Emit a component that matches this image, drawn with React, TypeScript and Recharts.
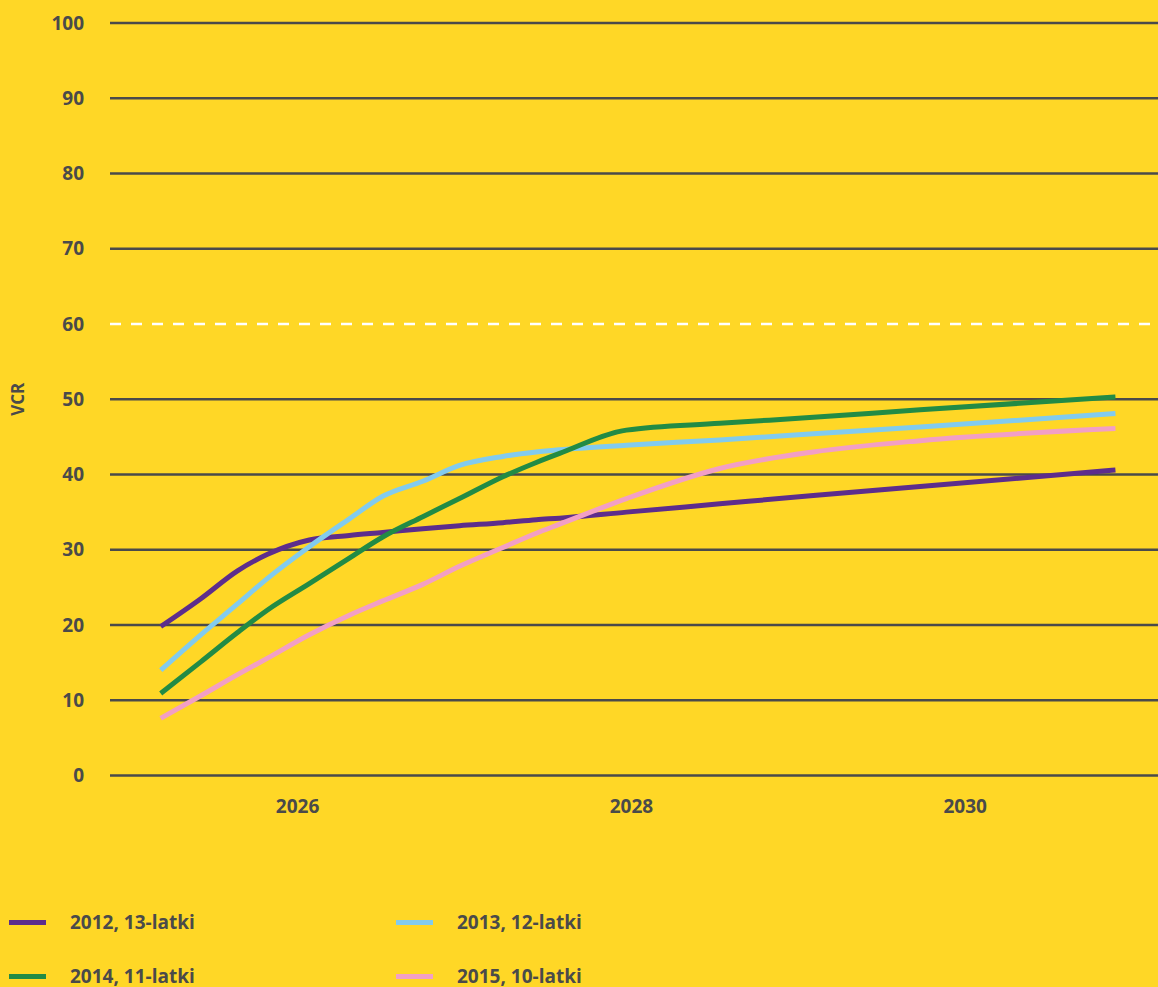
import React from "react";
import {
  LineChart,
  Line,
  XAxis,
  YAxis,
  ReferenceLine,
  Label,
} from "recharts";

// time points (decimal years)
const years = [
  2025.18, 2025.42, 2025.64, 2025.82, 2026.07, 2026.31, 2026.51, 2026.75,
  2026.97, 2027.23, 2027.43, 2027.57, 2027.97, 2028.53, 2029.09, 2029.73,
  2030.9,
];

const cohort2012 = [
  19.8, 23.5, 27.2, 29.4, 31.3, 31.9, 32.3, 32.8, 33.2, 33.6, 34.0, 34.2,
  35.0, 36.1, 37.2, 38.4, 40.6,
];
const cohort2013 = [
  14.0, 18.7, 22.8, 26.2, 30.4, 34.1, 37.1, 39.1, 41.2, 42.4, 43.0, 43.3,
  43.9, 44.6, 45.4, 46.3, 48.1,
];
const cohort2014 = [
  10.9, 15.1, 19.0, 22.0, 25.5, 28.9, 31.7, 34.4, 36.8, 39.7, 41.6, 42.8,
  45.9, 46.8, 47.6, 48.6, 50.3,
];
const cohort2015 = [
  7.6, 10.6, 13.4, 15.6, 18.7, 21.3, 23.2, 25.4, 27.8, 30.3, 32.2, 33.4,
  36.8, 40.8, 43.0, 44.5, 46.1,
];

const yTicks = [0, 10, 20, 30, 40, 50, 60, 70, 80, 90, 100];
const xTicks = [2026, 2028, 2030];
const target = 60;

const series = [
  { key: "c2012", name: "2012, 13-latki", color: "#5d2d8c" },
  { key: "c2013", name: "2013, 12-latki", color: "#82cbee" },
  { key: "c2014", name: "2014, 11-latki", color: "#228b45" },
  { key: "c2015", name: "2015, 10-latki", color: "#f29fc5" },
];

const data = years.map((year, i) => ({
  year,
  c2012: cohort2012[i],
  c2013: cohort2013[i],
  c2014: cohort2014[i],
  c2015: cohort2015[i],
}));

const BG = "#ffd726";
const INK = "#4a4a4a";
const FONT = "'Open Sans', sans-serif";

const tickStyle = {
  fontSize: 19,
  fontWeight: 700,
  fill: INK,
  fontFamily: FONT,
};

function LegendBlock() {
  return (
    <div
      style={{
        position: "absolute",
        left: 9,
        top: 907,
        display: "grid",
        gridTemplateColumns: "387px 300px",
        rowGap: 24,
        fontFamily: FONT,
        fontWeight: 700,
        fontSize: 19,
        color: INK,
      }}
    >
      {series.map((s) => (
        <div
          key={s.key}
          style={{ display: "flex", alignItems: "center", height: 30 }}
        >
          <span
            style={{
              display: "inline-block",
              width: 37,
              height: 5,
              background: s.color,
              marginRight: 24,
            }}
          />
          <span>{s.name}</span>
        </div>
      ))}
    </div>
  );
}

export default function App() {
  return (
    <div
      style={{
        position: "absolute",
        left: 0,
        top: 0,
        width: 1158,
        height: 987,
        background: BG,
        overflow: "hidden",
      }}
    >
      <LineChart
        width={1158}
        height={987}
        data={data}
        margin={{ top: 23, right: 0, left: 0, bottom: 171.5 }}
      >
        <XAxis
          dataKey="year"
          type="number"
          domain={[2024.876, 2031.155]}
          ticks={xTicks}
          axisLine={false}
          tickLine={false}
          tickSize={0}
          tickMargin={24}
          height={40}
          tick={tickStyle}
        />
        <YAxis
          type="number"
          domain={[0, 100]}
          ticks={yTicks}
          interval={0}
          axisLine={false}
          tickLine={false}
          tickSize={0}
          tickMargin={26}
          width={110}
          tick={tickStyle}
        >
          <Label
            value="VCR"
            angle={-90}
            position="insideLeft"
            offset={18}
            style={{
              fontSize: 17,
              fontWeight: 700,
              fill: INK,
              fontFamily: FONT,
              textAnchor: "middle",
            }}
          />
        </YAxis>
        {yTicks
          .filter((v) => v !== target)
          .map((v) => (
            <ReferenceLine key={v} y={v} stroke={INK} strokeWidth={2.5} />
          ))}
        <ReferenceLine
          y={target}
          stroke="#ffffff"
          strokeWidth={2.5}
          strokeDasharray="11 10"
        />
        {series.map((s) => (
          <Line
            key={s.key}
            dataKey={s.key}
            name={s.name}
            type="monotone"
            stroke={s.color}
            strokeWidth={5}
            dot={false}
            activeDot={false}
            isAnimationActive={false}
          />
        ))}
      </LineChart>
      <LegendBlock />
    </div>
  );
}
